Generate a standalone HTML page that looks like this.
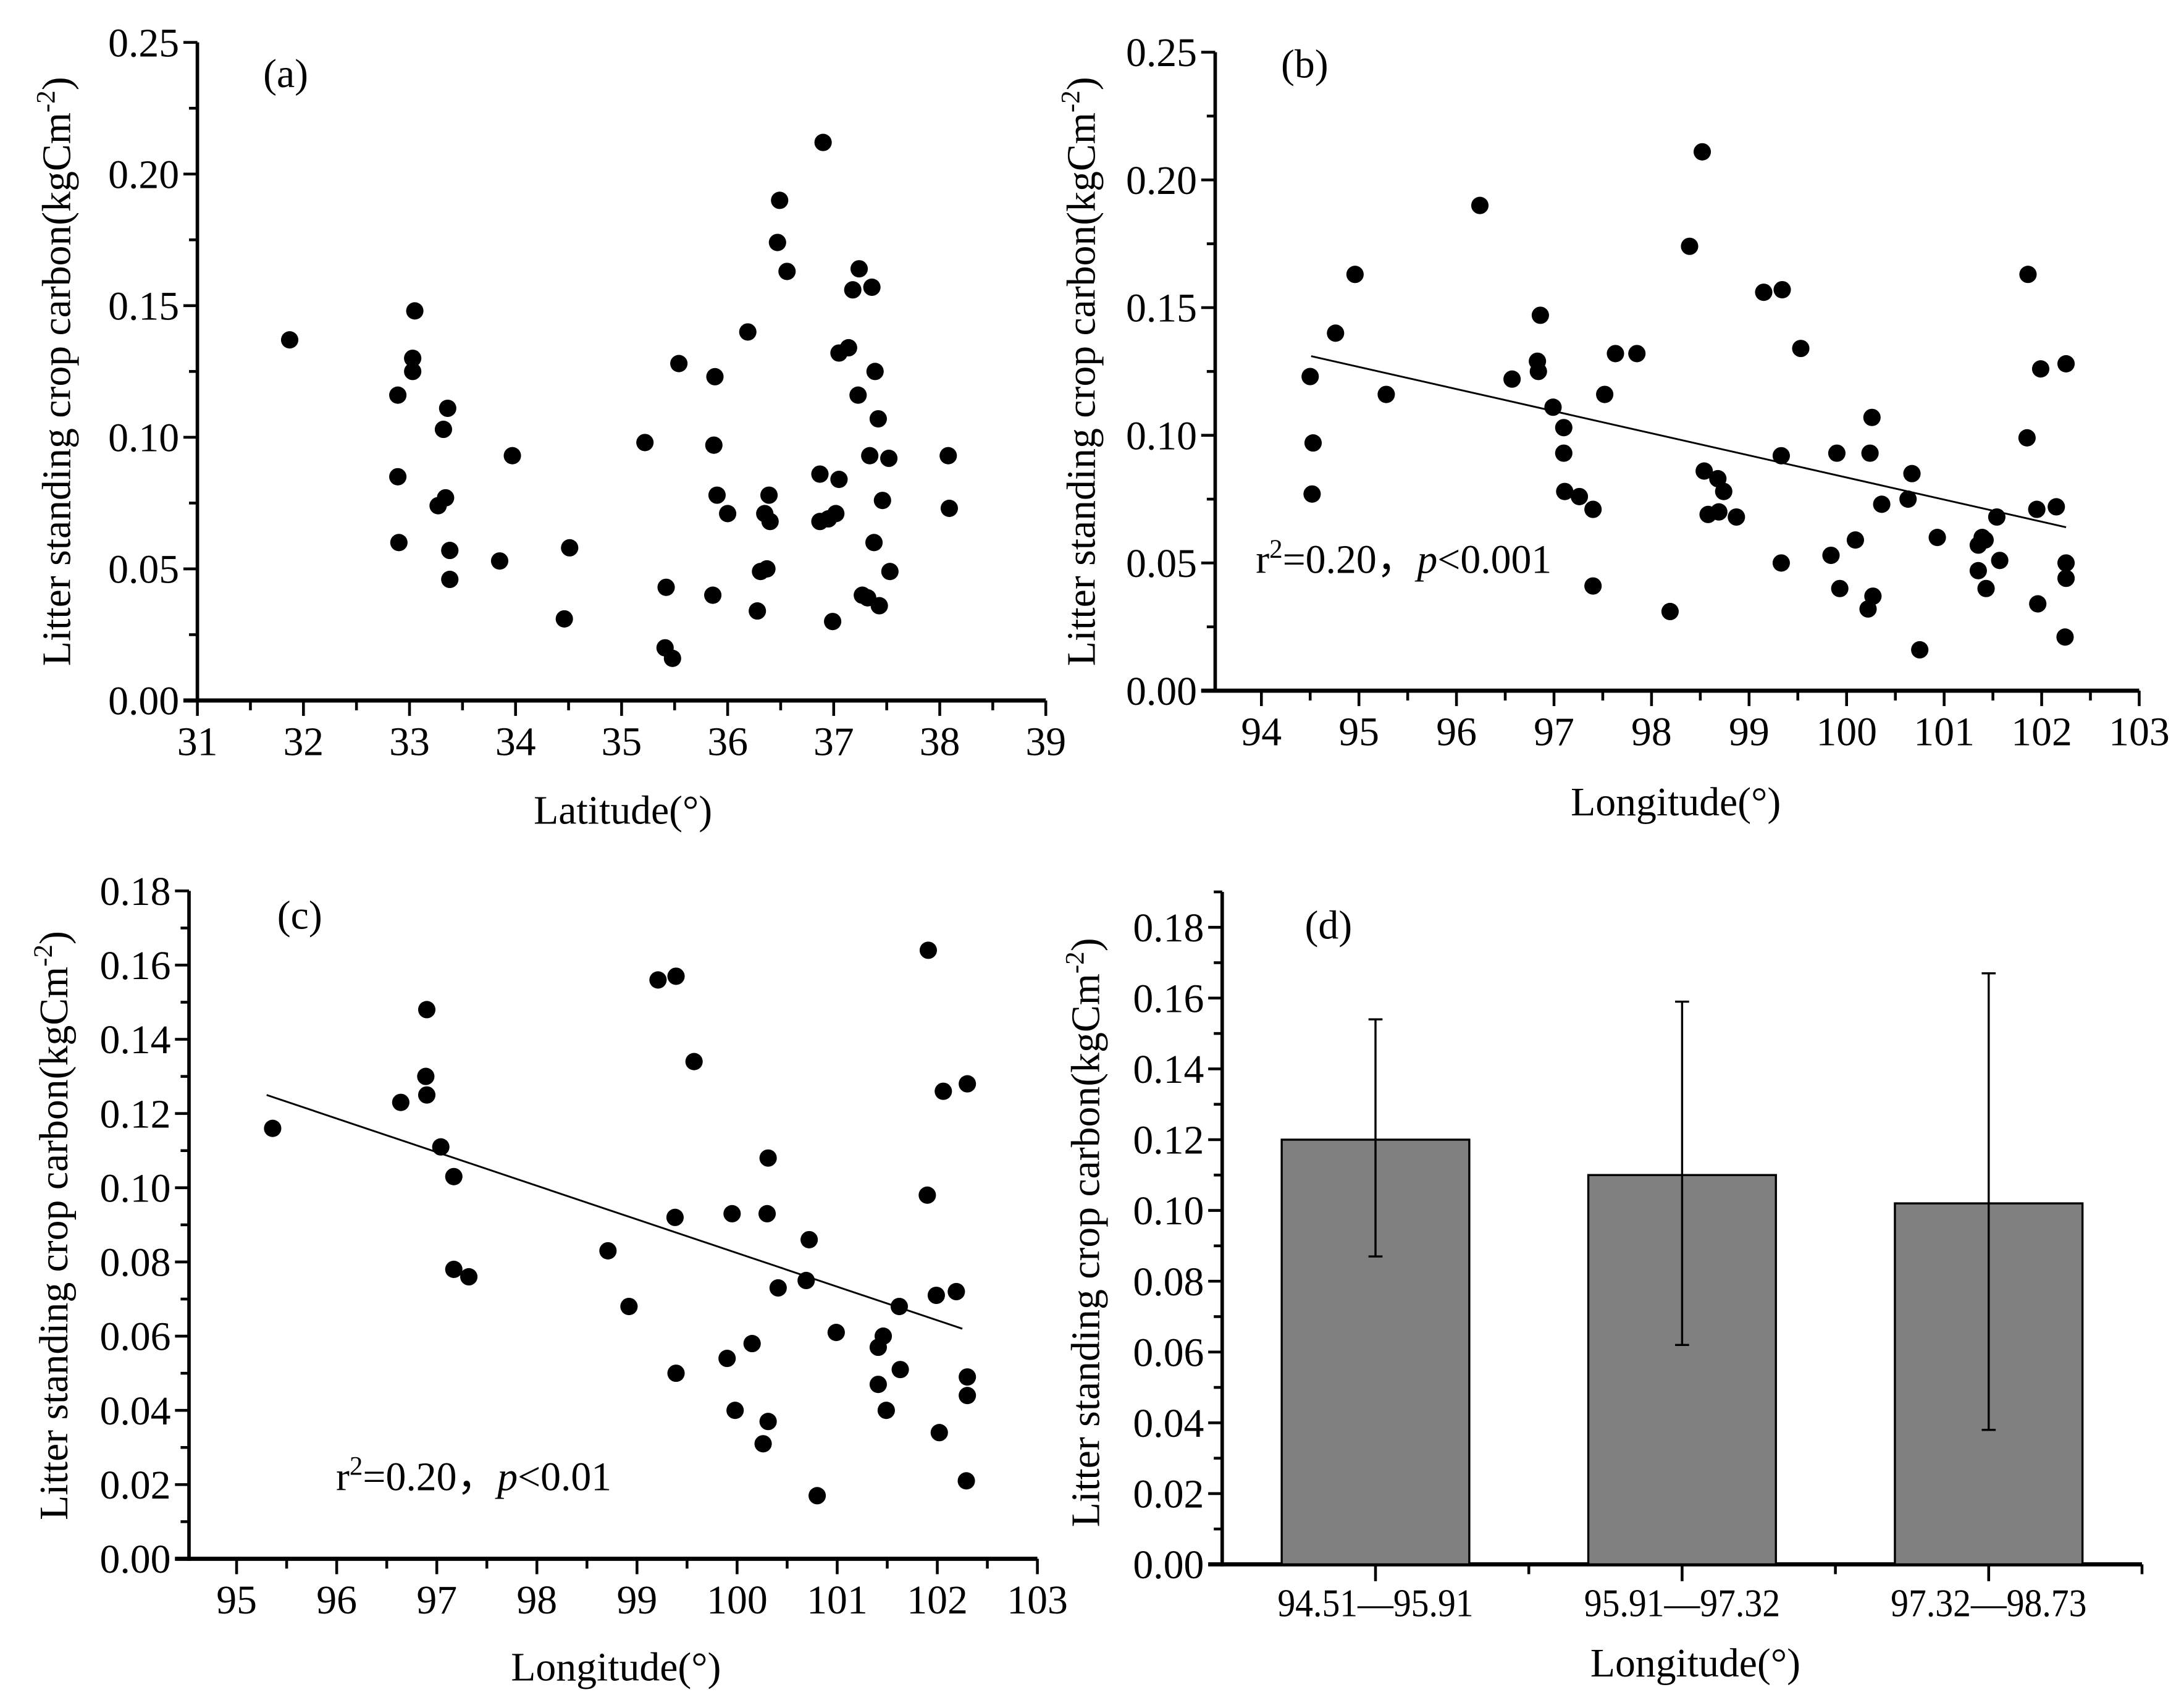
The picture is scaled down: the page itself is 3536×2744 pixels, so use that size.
<!DOCTYPE html>
<html><head><meta charset="utf-8"><style>
html,body{margin:0;padding:0;background:#fff;}
svg{display:block;font-family:"Liberation Serif",serif;}
</style></head><body>
<svg id="fig" width="3536" height="2744" viewBox="0 0 1560 1210" xmlns="http://www.w3.org/2000/svg">
<rect width="1560" height="1210" fill="#fff"/>
<g id="g"></g>
</svg>
<script>
// ---- data ----
const latA=[31.87,32.89,33.05,33.03,33.03,32.89,32.90,33.36,33.32,33.34,33.27,33.38,33.38,33.97,33.85,34.46,34.51,35.22,35.42,35.41,35.48,35.54,35.88,35.87,35.90,35.86,36.00,36.19,36.28,36.31,36.35,36.39,36.40,36.37,36.47,36.49,36.56,36.90,36.87,36.87,36.99,37.02,36.95,37.05,37.05,37.14,37.18,37.24,37.23,37.27,37.32,37.36,37.34,37.39,37.42,37.38,37.43,37.46,37.52,37.53,38.08,38.09];
const valA=[0.137,0.116,0.148,0.130,0.125,0.085,0.060,0.111,0.103,0.077,0.074,0.057,0.046,0.093,0.053,0.031,0.058,0.098,0.043,0.020,0.016,0.128,0.123,0.097,0.078,0.040,0.071,0.140,0.034,0.049,0.071,0.078,0.068,0.050,0.174,0.190,0.163,0.212,0.086,0.068,0.030,0.071,0.069,0.084,0.132,0.134,0.156,0.164,0.116,0.040,0.039,0.157,0.093,0.125,0.107,0.060,0.036,0.076,0.092,0.049,0.093,0.073];
const lonB=[94.50,94.53,94.52,94.76,94.96,95.28,96.24,96.57,96.86,96.83,96.84,96.99,97.10,97.10,97.11,97.26,97.40,97.40,97.52,97.63,97.85,98.19,98.39,98.52,98.54,98.68,98.74,98.58,98.69,98.87,99.15,99.34,99.33,99.33,99.53,99.90,99.84,99.93,100.09,100.26,100.24,100.36,100.22,100.27,100.67,100.63,100.75,100.93,101.35,101.39,101.42,101.35,101.43,101.54,101.57,101.85,101.86,101.95,101.96,101.99,102.15,102.25,102.25,102.25,102.24];
const valB=[0.123,0.097,0.077,0.140,0.163,0.116,0.190,0.122,0.147,0.129,0.125,0.111,0.103,0.093,0.078,0.076,0.071,0.041,0.116,0.132,0.132,0.031,0.174,0.211,0.086,0.083,0.078,0.069,0.070,0.068,0.156,0.157,0.092,0.050,0.134,0.093,0.053,0.040,0.059,0.107,0.093,0.073,0.032,0.037,0.085,0.075,0.016,0.060,0.057,0.060,0.059,0.047,0.040,0.068,0.051,0.099,0.163,0.071,0.034,0.126,0.072,0.128,0.050,0.044,0.021];
const fitBx=[94.51,102.25], fitBy=[0.131,0.064];
const lonC=[95.36,96.64,96.90,96.89,96.90,97.04,97.17,97.17,97.32,98.71,98.92,99.21,99.39,99.38,99.39,99.57,99.95,99.90,99.98,100.15,100.31,100.30,100.41,100.26,100.31,100.72,100.69,100.80,100.99,101.41,101.46,101.41,101.49,101.62,101.63,101.90,101.91,101.99,102.02,102.06,102.19,102.30,102.30,102.30,102.29];
const valC=[0.116,0.123,0.148,0.130,0.125,0.111,0.103,0.078,0.076,0.083,0.068,0.156,0.157,0.092,0.050,0.134,0.093,0.054,0.040,0.058,0.108,0.093,0.073,0.031,0.037,0.086,0.075,0.017,0.061,0.057,0.060,0.047,0.040,0.068,0.051,0.098,0.164,0.071,0.034,0.126,0.072,0.128,0.049,0.044,0.021];
const fitCx=[95.3,102.25], fitCy=[0.125,0.062];
const catD=["94.51—95.91","95.91—97.32","97.32—98.73"];
const valD=[0.120,0.110,0.102];
const hiD=[0.154,0.159,0.167];
const loD=[0.087,0.062,0.038];
const ticksA_x=[31,32,33,34,35,36,37,38,39];
const ticksA_y=[0,0.05,0.10,0.15,0.20,0.25];
const ticksB_x=[94,95,96,97,98,99,100,101,102,103];
const ticksC_x=[95,96,97,98,99,100,101,102,103];
const ticksC_y=[0,0.02,0.04,0.06,0.08,0.10,0.12,0.14,0.16,0.18];

const NS="http://www.w3.org/2000/svg";
const G=document.getElementById('g');
const TF=29;
function mk(tag,attrs,parent,text){const e=document.createElementNS(NS,tag);for(const k in attrs)e.setAttribute(k,attrs[k]);if(text!==undefined)e.textContent=text;(parent||G).appendChild(e);return e;}
function lin(d0,d1,p0,p1){return v=>p0+(v-d0)*(p1-p0)/(d1-d0);}

function yTitle(x,y,parent){
  const t=mk('text',{x:0,y:0,transform:`translate(${x},${y}) rotate(-90)`,'text-anchor':'middle','font-size':29},parent);
  
  
  t.appendChild(document.createTextNode('Litter standing crop carbon(kgCm'));
  mk('tspan',{dy:-11,'font-size':19},t,'-2');
  mk('tspan',{dy:11},t,')');
}
function panel(o){
  const p=mk('g',{});
  
  
  const sx=lin(o.xd[0],o.xd[1],o.xp[0],o.xp[1]);
  const sy=lin(0,o.yd1,o.yp0,o.yp1);
  const ya=mk('line',{x1:o.ax,y1:o.yp0+1.5,x2:o.ax,y2:sy(o.yTop),stroke:'#000','stroke-width':2.5},p);
  
  
  const step=o.yt[1]-o.yt[0];
  o.yt.forEach((v)=>{
    const y=sy(v);
    mk('line',{x1:o.ax-10,y1:y,x2:o.ax,y2:y,stroke:'#000','stroke-width':2},p);
    if(v+step/2<=o.yTop+1e-9){const ym=sy(v+step/2); mk('line',{x1:o.ax-6,y1:ym,x2:o.ax,y2:ym,stroke:'#000','stroke-width':2},p);}
    const t=mk('text',{x:o.ax-13,y:y+10,'text-anchor':'end','font-size':TF},p,v.toFixed(2));
    
    
  });
  const xa=mk('line',{x1:o.ax-10,y1:o.yp0,x2:o.xEnd,y2:o.yp0,stroke:'#000','stroke-width':3},p);
  
  
  if(o.xt){
    o.xt.forEach((v)=>{
      const x=sx(v);
      mk('line',{x1:x,y1:o.yp0,x2:x,y2:o.yp0+11,stroke:'#000','stroke-width':2},p);
      const xm=sx(v-0.5); if(xm>o.ax+2) mk('line',{x1:xm,y1:o.yp0,x2:xm,y2:o.yp0+7,stroke:'#000','stroke-width':2},p);
      const t=mk('text',{x:x,y:o.yp0+39,'text-anchor':'middle','font-size':TF},p,String(v));
      
      
    });
  }
  return {p,sx,sy};
}
function dots(P,xs,ys,name){
  xs.forEach((x,i)=>{
    const c=mk('circle',{cx:P.sx(x),cy:P.sy(ys[i]),r:6.2,fill:'#000'},P.p);
    
    
  });
}
function fit(P,xs,ys){
  const l=mk('line',{x1:P.sx(xs[0]),y1:P.sy(ys[0]),x2:P.sx(xs[1]),y2:P.sy(ys[1]),stroke:'#000','stroke-width':1.3},P.p);
  
  
}
function label(x,y,s,name){const t=mk('text',{x:x,y:y,'font-size':29},null,s);return t;}
function xTitle(x,y,s){const t=mk('text',{x:x,y:y,'text-anchor':'middle','font-size':29},null,s);}
function annot(x,y,pstr){
  const t=mk('text',{x:x,y:y,'font-size':29});
  
  
  t.appendChild(document.createTextNode('r'));
  mk('tspan',{dy:-11,'font-size':19},t,'2');
  mk('tspan',{dy:11},t,'=0.20，');
  mk('tspan',{'font-style':'italic'},t,'p');
  mk('tspan',{},t,pstr);
}

// (a)
const A=panel({name:'panel-a',xd:[31,39],xp:[141,747],ax:141,xEnd:747,yd1:0.25,yp0:500,yp1:30,yTop:0.25,yt:ticksA_y,xt:ticksA_x});
dots(A,latA,valA,'point-a');
yTitle(50,265); xTitle(445,588,'Latitude(°)'); label(188,62,'(a)','panel-label-a');
// (b)
const B=panel({name:'panel-b',xd:[94,103],xp:[901,1528],ax:868,xEnd:1528,yd1:0.25,yp0:493,yp1:37,yTop:0.25,yt:ticksA_y,xt:ticksB_x});
dots(B,lonB,valB,'point-b'); fit(B,fitBx,fitBy);
yTitle(782,265); xTitle(1197,582,'Longitude(°)'); label(915,55,'(b)','panel-label-b');
annot(897,409,'<0.001');
// (c)
const C=panel({name:'panel-c',xd:[95,103],xp:[169,741],ax:135,xEnd:741,yd1:0.18,yp0:1113,yp1:636,yTop:0.18,yt:ticksC_y,xt:ticksC_x});
dots(C,lonC,valC,'point-c'); fit(C,fitCx,fitCy);
yTitle(48,875); xTitle(440,1200,'Longitude(°)'); label(198,663,'(c)','panel-label-c');
annot(240,1064,'<0.01');
// (d)
const D=panel({name:'panel-d',xd:[0,1],xp:[873,1530],ax:873,xEnd:1530,yd1:0.18,yp0:1117,yp1:662,yTop:0.19,yt:ticksC_y,xt:null});
const bw=(1530-873)/catD.length;
catD.forEach((c,i)=>{
  const cx=873+bw*(i+0.5);
  const y=D.sy(valD[i]);
  const r=mk('rect',{x:cx-67,y:y,width:134,height:1117-y,fill:'#808080',stroke:'#000','stroke-width':1.5},D.p);
  
  
  const e=mk('path',{d:`M${cx},${D.sy(hiD[i])}V${D.sy(loD[i])}M${cx-5},${D.sy(hiD[i])}H${cx+5}M${cx-5},${D.sy(loD[i])}H${cx+5}`,stroke:'#000','stroke-width':1.5,fill:'none'},D.p);
  
  
  mk('line',{x1:cx,y1:1117,x2:cx,y2:1129,stroke:'#000','stroke-width':2},D.p);
  mk('line',{x1:873+bw*(i+1),y1:1117,x2:873+bw*(i+1),y2:1124,stroke:'#000','stroke-width':2},D.p);
  const t=mk('text',{x:cx,y:1154,'text-anchor':'middle','font-size':28,textLength:140,lengthAdjust:'spacingAndGlyphs'},D.p,c);
  
  
});
yTitle(785,880); xTitle(1211,1197,'Longitude(°)'); label(932,670,'(d)','panel-label-d');
</script>
</body></html>
